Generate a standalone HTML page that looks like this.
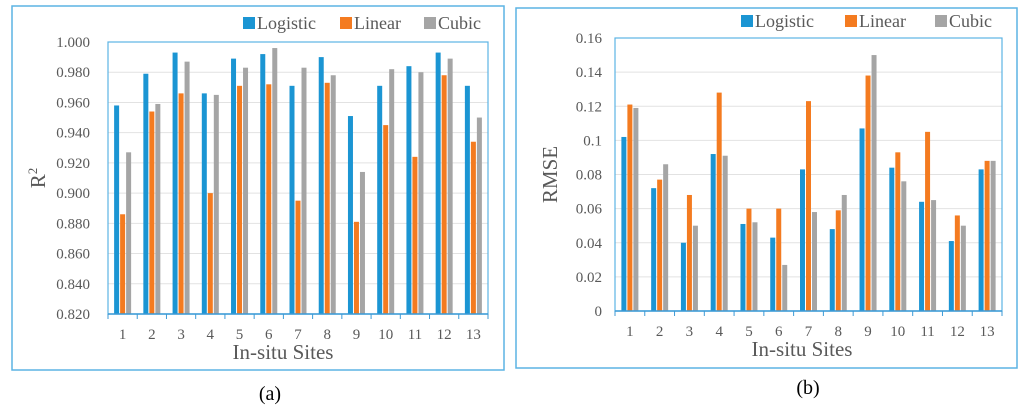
<!DOCTYPE html>
<html><head><meta charset="utf-8"><style>
body{margin:0;background:#fff;}
svg, svg text{font-family:"Liberation Serif","DejaVu Serif",serif;}
</style></head><body>
<svg id="svg" width="1024" height="410" viewBox="0 0 1024 410" xmlns="http://www.w3.org/2000/svg" font-family="Liberation Serif, serif"></svg>
<script>
const sites = ["1","2","3","4","5","6","7","8","9","10","11","12","13"];
const seriesNames = ["Logistic","Linear","Cubic"];
const r2Logistic = [0.958,0.979,0.993,0.966,0.989,0.992,0.971,0.990,0.951,0.971,0.984,0.993,0.971];
const r2Linear = [0.886,0.954,0.966,0.900,0.971,0.972,0.895,0.973,0.881,0.945,0.924,0.978,0.934];
const r2Cubic = [0.927,0.959,0.987,0.965,0.983,0.996,0.983,0.978,0.914,0.982,0.980,0.989,0.950];
const r2Ticks = ["0.820","0.840","0.860","0.880","0.900","0.920","0.940","0.960","0.980","1.000"];
const rmseLogistic = [0.102,0.072,0.040,0.092,0.051,0.043,0.083,0.048,0.107,0.084,0.064,0.041,0.083];
const rmseLinear = [0.121,0.077,0.068,0.128,0.060,0.060,0.123,0.059,0.138,0.093,0.105,0.056,0.088];
const rmseCubic = [0.119,0.086,0.050,0.091,0.052,0.027,0.058,0.068,0.150,0.076,0.065,0.050,0.088];
const rmseTicks = ["0","0.02","0.04","0.06","0.08","0.1","0.12","0.14","0.16"];

const NS="http://www.w3.org/2000/svg";
const svg=document.getElementById('svg');
const colors=["#1b95d3","#f47b20","#a5a5a5"];
function mk(tag,attrs,parent,text){const e=document.createElementNS(NS,tag);for(const k in attrs)e.setAttribute(k,attrs[k]);if(tag==='text')e.setAttribute('font-family','Liberation Serif, serif');if(text!==undefined)e.textContent=text;(parent||svg).appendChild(e);return e;}

function chart(cfg){
  const g=mk('g',{});
  
  
  const fr=mk('rect',{x:cfg.frame[0],y:cfg.frame[1],width:cfg.frame[2],height:cfg.frame[3],fill:'none',stroke:'#5cb3e4','stroke-width':1.5},g);
  
  
  const L=cfg.left,R=cfg.right,T=cfg.top,B=cfg.bottom;
  const ymin=parseFloat(cfg.ticks[0]),ymax=parseFloat(cfg.ticks[cfg.ticks.length-1]);
  const y=v=>B-(v-ymin)/(ymax-ymin)*(B-T);
  const gw=(R-L)/sites.length;
  const x=i=>L+i*gw;
  cfg.ticks.forEach(t=>{
    const v=parseFloat(t);
    if(v!==ymin){const gl=mk('line',{x1:L,x2:R,y1:y(v),y2:y(v),stroke:'#e2e2e2','stroke-width':1},g);
      
      }
    const tl=mk('text',{x:cfg.tickX,y:y(v)+5,'text-anchor':'end','font-size':15,fill:'#595959'},g,t);
    
    
  });
  const pb=mk('rect',{x:L,y:T,width:R-L,height:B-T,fill:'none',stroke:'#5cb3e4','stroke-width':1.2},g);
  
  
  cfg.series.forEach((s,si)=>{
    s.forEach((v,i)=>{
      const bx=x(i)+gw/2-8.5+si*6;
      const b=mk('rect',{x:bx,y:y(v),width:5,height:B-y(v),fill:colors[si]},g);
      
      
    });
  });
  const ax=mk('line',{x1:L,x2:R,y1:B,y2:B,stroke:'#3c9ad6','stroke-width':1.5},g);
  
  
  for(let i=0;i<=sites.length;i++){
    const tk=mk('line',{x1:x(i),x2:x(i),y1:B,y2:B+5,stroke:'#3c9ad6','stroke-width':1},g);
    
    
  }
  sites.forEach((s,i)=>{
    const t=mk('text',{x:x(i)+gw/2,y:B+25,'text-anchor':'middle','font-size':15,fill:'#595959'},g,s);
    
    
  });
  const xt=mk('text',{x:cfg.xTitleX,y:B+45,'text-anchor':'middle','font-size':21,fill:'#595959'},g,'In-situ Sites');
  
  
  const yt=mk('text',{x:0,y:0,'text-anchor':'middle','font-size':21,fill:'#595959',transform:`translate(${cfg.yTitleX},${(T+B)/2}) rotate(-90)`},g);
  
  
  if(cfg.r2){yt.textContent='R';const sp=mk('tspan',{dy:-8,'font-size':13},yt,'2');}
  else yt.textContent=cfg.yTitle;
  cfg.legendX.forEach((lx,si)=>{
    const sq=mk('rect',{x:lx,y:cfg.legendY-11,width:12,height:12,fill:colors[si]},g);
    
    
    const lt=mk('text',{x:lx+14,y:cfg.legendY+1,'font-size':18,fill:'#595959'},g,seriesNames[si]);
    
    
  });
  const cap=mk('text',{x:cfg.capX,y:cfg.capY,'text-anchor':'middle','font-size':20,fill:'#000'},g,cfg.cap);
  
  
}

chart({name:'r2-chart',frame:[12,6,492,364],left:108,right:488,top:42,bottom:314,ticks:r2Ticks,tickX:90,
  series:[r2Logistic,r2Linear,r2Cubic],xTitleX:283,yTitleX:45,r2:true,legendX:[243,340,424],legendY:28,cap:'(a)',capX:270,capY:400});
chart({name:'rmse-chart',frame:[516,8,501,360],left:615,right:1002,top:38,bottom:311,ticks:rmseTicks,tickX:602,
  series:[rmseLogistic,rmseLinear,rmseCubic],xTitleX:802,yTitleX:557,yTitle:'RMSE',legendX:[741,845,935],legendY:26,cap:'(b)',capX:808,capY:394});
</script>
</body></html>
